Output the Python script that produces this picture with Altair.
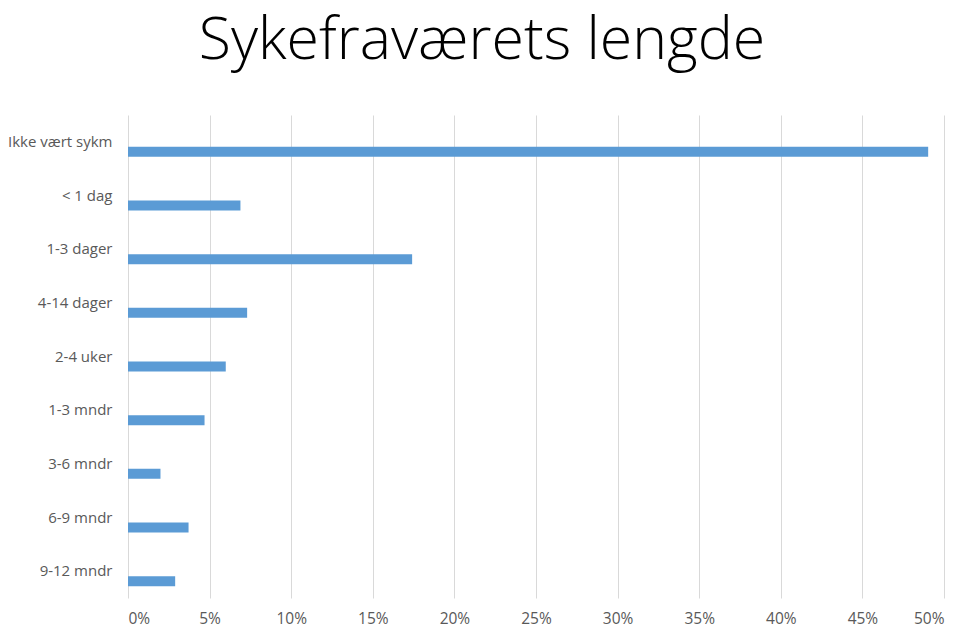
import altair as alt
import pandas as pd

categories = ["Ikke vært sykm", "< 1 dag", "1-3 dager", "4-14 dager", "2-4 uker",
              "1-3 mndr", "3-6 mndr", "6-9 mndr", "9-12 mndr"]
values = [0.4903, 0.0689, 0.1741, 0.0730, 0.0599, 0.0469, 0.0199, 0.0371, 0.0289]

df = pd.DataFrame({"kategori": categories, "andel": values})

FONT = "Open Sans"
GRAY = "#595959"

chart = alt.Chart(df).mark_bar(color="#5b9bd5", size=10, yOffset=10).encode(
    x=alt.X("andel:Q",
            scale=alt.Scale(domain=[0, 0.5], nice=False),
            axis=alt.Axis(format=".0%", values=[i / 20 for i in range(11)],
                          title=None, domain=False, ticks=False,
                          grid=True, gridColor="#d9d9d9", gridWidth=1,
                          labelFont=FONT, labelFontSize=15.5, labelColor=GRAY,
                          labelPadding=13)),
    y=alt.Y("kategori:N", sort=categories,
            scale=alt.Scale(paddingInner=0, paddingOuter=0),
            axis=alt.Axis(title=None, domain=False, ticks=False, grid=False,
                          labelFont=FONT, labelFontSize=15, labelColor=GRAY,
                          labelPadding=16)),
).properties(
    width=816, height=483,
    title=alt.TitleParams("Sykefraværets lengde", font=FONT, fontSize=59,
                          fontWeight=300, color="#000000", anchor="middle",
                          dx=-54, offset=44),
    autosize=alt.AutoSizeParams(type="none"),
    padding={"left": 120, "top": 107, "right": 8, "bottom": 31},
).configure_view(stroke=None)

chart.save("out.html", embed_options={"renderer": "svg", "actions": False})
